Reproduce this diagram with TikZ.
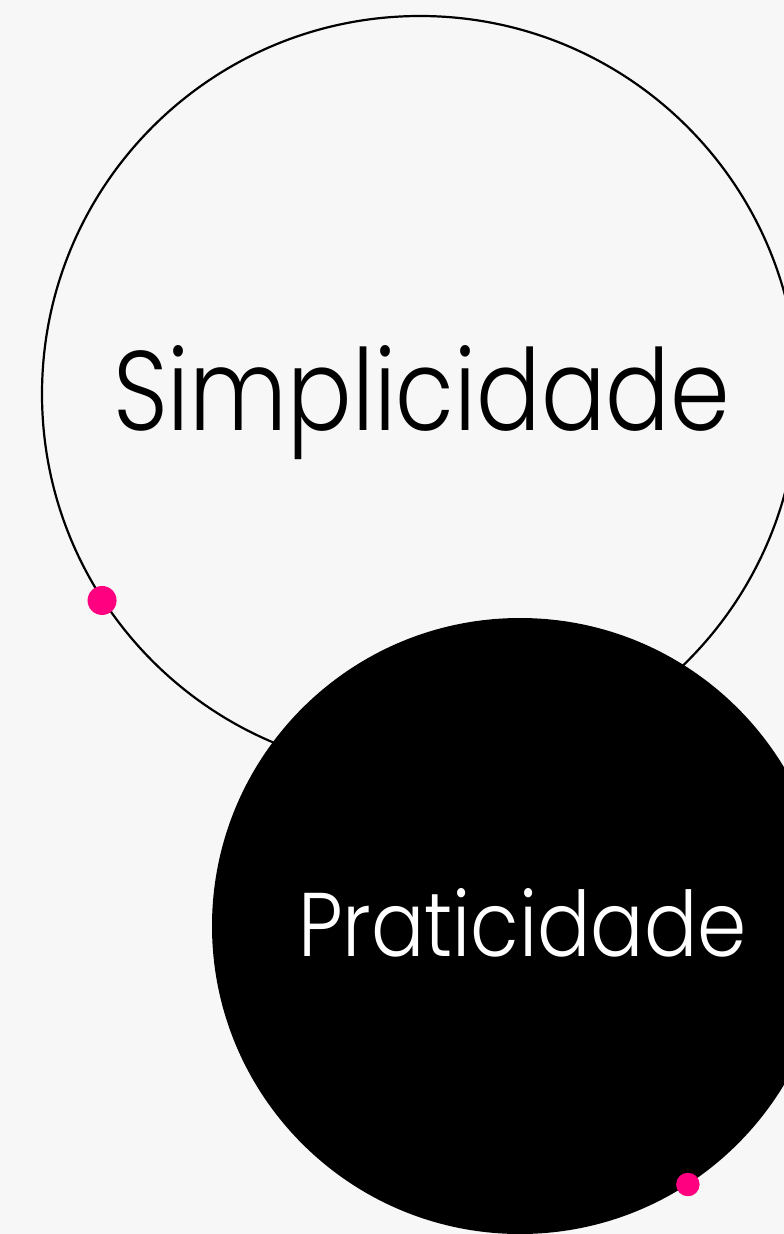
\documentclass[tikz,border=0pt]{standalone}
\usepackage{fontspec}
\setmainfont{Poppins}[UprightFont=* Light]
\usepackage{graphicx}
\usepackage{xcolor}
\usepackage{tikz}
\usetikzlibrary{positioning}
\definecolor{bgGray}{HTML}{F7F7F7}
\definecolor{dotPink}{HTML}{FF0080}

\begin{document}
\begin{tikzpicture}[x=1pt,y=-1pt,
    ring/.style={circle, draw=black, line width=2.2pt, inner sep=0pt},
    disc/.style={circle, fill=black, inner sep=0pt},
    pinkdot/.style={circle, fill=dotPink, inner sep=0pt},
    word/.style={anchor=base, inner sep=0pt}]
    % Draw background and fix the frame
    \useasboundingbox (0,0) rectangle (784,1234);
    \fill[bgGray] (0,0) rectangle (784,1234);
    \clip (0,0) rectangle (784,1234);

    % Draw outlined circle with its word
    \node[ring, minimum size=756pt] (simp) at (420,394) {};
    \node[word] (simpText) at (421.5,430) {\resizebox{617pt}{85pt}{\fontsize{100}{100}\selectfont Simplicidade}};

    % Draw black circle over it
    \node[disc, minimum size=616pt] (prat) at (520,926) {};
    \node[word, text=white] (pratText) at (522.5,956) {\resizebox{449pt}{68pt}{\fontsize{100}{100}\selectfont Praticidade}};

    % Draw pink dots on the borders
    \node[pinkdot, minimum size=29pt] (dotA) at (simp.213.7) {};
    \node[pinkdot, minimum size=23.5pt] (dotB) at (prat.-57) {};
\end{tikzpicture}
\end{document}
